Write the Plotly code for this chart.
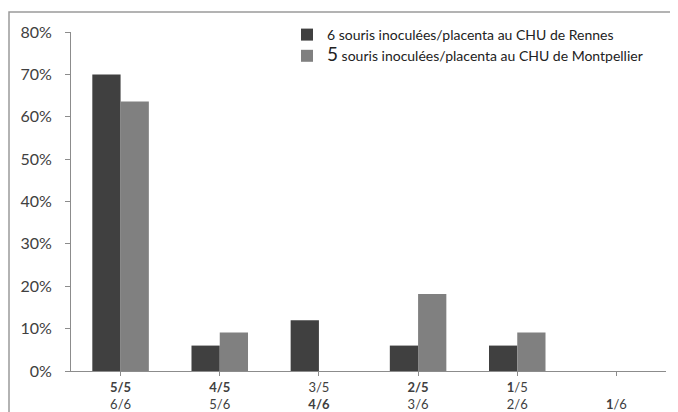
import plotly.graph_objects as go

categories = [0, 1, 2, 3, 4, 5]
tick_labels = [
    "<b>5/5</b><br>6/6",
    "<b>4/5</b><br>5/6",
    "3/5<br><b>4/6</b>",
    "<b>2/5</b><br>3/6",
    "<b>1</b>/5<br>2/6",
    "<br><b>1</b>/6",
]
y_ticks = [0, 10, 20, 30, 40, 50, 60, 70, 80]
y_tick_labels = ["0%", "10%", "20%", "30%", "40%", "50%", "60%", "70%", "80%"]
rennes = [70.0, 6.0, 12.0, 6.0, 6.0, 0.0]
montpellier = [63.6, 9.1, 0.0, 18.2, 9.1, 0.0]
name_rennes = "6 souris inoculées/placenta au CHU de Rennes"
name_montpellier = '<span style="font-size:19px">5</span> souris inoculées/placenta au CHU de Montpellier'

fig = go.Figure()
fig.add_trace(go.Bar(x=categories, y=rennes, name=name_rennes,
                     marker=dict(color="#404040", line=dict(width=0))))
fig.add_trace(go.Bar(x=categories, y=montpellier, name=name_montpellier,
                     marker=dict(color="#808080", line=dict(width=0))))

# The page body has an 8px margin, so the figure is drawn from (8, 8).
OFF = 8
W, H = 678 - OFF, 412 - OFF
L, T = 71 - OFF, 32 - OFF
R, B = 12, 41
pw, ph = W - L - R, H - T - B

def px_x(px):
    return (px - OFF - L) / pw

def px_y(py):
    return (H - B - (py - OFF)) / ph

fig.update_layout(
    width=W, height=H,
    margin=dict(l=L, r=R, t=T, b=B, autoexpand=False),
    paper_bgcolor="white", plot_bgcolor="white",
    barmode="group", bargap=0.43, bargroupgap=0,
    font=dict(family="Lato, 'Open Sans', sans-serif", color="#404040"),
    showlegend=True,
    legend=dict(x=px_x(287), y=px_y(19), xanchor="left", yanchor="top",
                font=dict(size=14, color="#222222"), bgcolor="rgba(0,0,0,0)",
                itemwidth=30, tracegroupgap=0),
    xaxis=dict(
        range=[-0.5, 5.5], tickmode="array", tickvals=categories, ticktext=tick_labels,
        showline=True, linecolor="#8c8c8c", linewidth=1,
        ticks="outside", ticklen=4, tickcolor="#8c8c8c", tickson="boundaries",
        showgrid=False, zeroline=False, automargin=False,
        tickfont=dict(size=13, color="#404040"),
    ),
    yaxis=dict(
        range=[0, 80], tickmode="array", tickvals=y_ticks, ticktext=y_tick_labels,
        showline=True, linecolor="#8c8c8c", linewidth=1,
        ticks="outside", ticklen=5, tickcolor="#8c8c8c",
        showgrid=False, zeroline=False, automargin=False,
        tickfont=dict(size=16, color="#404040"), ticklabelstandoff=10,
    ),
    shapes=[dict(type="rect", xref="paper", yref="paper",
                 x0=px_x(9), x1=px_x(720), y0=px_y(440), y1=px_y(12),
                 line=dict(color="#9a9a9a", width=1.5), fillcolor="rgba(0,0,0,0)",
                 layer="below")],
)

fig.write_html("out.html")
